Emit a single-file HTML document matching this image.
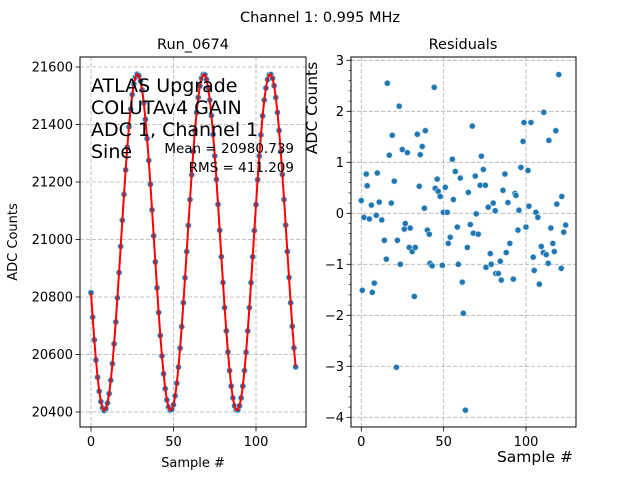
<!DOCTYPE html>
<html><head><meta charset="utf-8"><style>
body{margin:0;background:#fff}
svg text{font-family:"DejaVu Sans","Liberation Sans",sans-serif;fill:#000}
</style></head><body>
<svg id="fig" width="640" height="480" viewBox="0 0 640 480" xmlns="http://www.w3.org/2000/svg">
<rect width="640" height="480" fill="#fff"/>
<text x="320" y="22" font-size="14.5" text-anchor="middle">Channel 1: 0.995 MHz</text>
<text x="193" y="49" font-size="14.5" text-anchor="middle">Run_0674</text>
<text x="463" y="49" font-size="14.5" text-anchor="middle">Residuals</text>
<g id="left"></g>
<g id="right"></g>
<text x="193" y="467" font-size="13" text-anchor="middle">Sample #</text>
<text transform="translate(17,242) rotate(-90)" font-size="13" text-anchor="middle">ADC Counts</text>
<text x="535" y="462" font-size="15.5" text-anchor="middle">Sample #</text>
<text transform="translate(317,108) rotate(-90)" font-size="15.5" text-anchor="middle">ADC Counts</text>
<g font-size="19">
<text x="91" y="92">ATLAS Upgrade</text>
<text x="91" y="114">COLUTAv4 GAIN</text>
<text x="91" y="136">ADC 1, Channel 1</text>
<text x="91" y="158">Sine</text>
</g>
<text x="294" y="153" font-size="13.5" text-anchor="end">Mean = 20980.739</text>
<text x="294" y="172" font-size="13.5" text-anchor="end">RMS = 411.209</text>
</svg>
<script>
const samples=[20815,20730,20651,20581,20521,20472,20436,20414,20405,20411,20431,20464,20510,20568,20637,20713,20797,20885,20976,21067,21157,21242,21321,21392,21453,21504,21541,21565,21575,21570,21552,21520,21475,21418,21351,21275,21192,21103,21013,20922,20832,20746,20666,20595,20533,20481,20442,20417,20406,20409,20425,20456,20500,20556,20622,20697,20780,20867,20958,21049,21139,21225,21306,21379,21442,21494,21534,21561,21574,21573,21557,21528,21485,21431,21365,21291,21209,21122,21032,20940,20850,20763,20682,20609,20544,20490,20449,20421,20407,20407,20421,20449,20490,20544,20608,20682,20763,20850,20940,21031,21121,21208,21290,21364,21430,21485,21527,21557,21573,21574,21561,21535,21494,21442,21379,21306,21226,21139,21050,20958,20868,20780,20698,20623,20557];
const leftYTicks=[20400,20600,20800,21000,21200,21400,21600];
const xTicks=[0,50,100];
const resX=[0,1.6,3,3.6,4.9,6.1,9.1,9.7,10.9,12.4,14,15.8,17,18.2,18.8,20,21.9,23,24.9,26.7,26.1,28,29.7,34,35.2,35.8,37,38.3,38.9,40.1,41.3,44.3,44.9,46.1,46.7,47.9,49.8,51,52.2,52.8,54,55.3,55.9,57.1,58.3,60.1,65,66.2,67.4,68,69.2,69.8,71,72.2,72.9,74.1,75.3,77.1,80.1,81.3,86,87.2,89,90.2,93.3,93.9,95.1,95.7,96.9,98.2,98.8,100,101.2,101.8,103,106,107.2,110.8,113.9,115.1,116.3,118.1,118.7,119.9,121.7,122.9,124.1,15.2,23.7,29.1,30.9,32.8,41.7,43,49.2,58.9,61.3,61.9,63.2,64.4,75.7,78.3,78.9,81.6,83.2,84.4,85,88,92.3,104.4,105,108.1,109.3,110.5,112.3,113.5,117.2,121.4,0.6,6.7,7.9,21.3,32.2];
const resY=[0.25,-0.08,0.77,0.54,-0.11,0.16,-0.04,0.79,0.22,-0.13,-0.53,2.55,1.14,0.2,1.53,0.63,-0.53,2.1,1.25,-0.2,-0.31,1.19,-0.29,1.55,0.53,1.15,1.31,0.1,1.62,-0.33,-0.41,2.47,0.49,0.67,0.43,0.33,0.02,0.51,0.02,-0.59,-0.47,1.06,0.27,0.82,-0.27,0.69,0.41,-0.22,1.71,-0.39,0.73,-0.01,-0.41,0.55,1.12,0.86,0.55,0.12,0.2,0.05,0.45,0.77,0.21,-0.59,0.39,0.35,-0.33,0.06,0.9,1.41,1.78,-0.27,0.84,0.14,1.78,0.02,-0.08,1.98,1.43,-0.29,-0.59,1.62,0.18,2.72,0.33,-0.37,-0.23,-0.9,-1.0,-0.67,-0.75,-0.67,-0.98,-1.03,-1.02,-1.0,-1.35,-1.96,-3.86,-0.67,-1.06,-0.79,-1.0,-1.18,-1.18,-0.94,-1.31,-0.77,-1.29,-0.86,-1.12,-1.39,-0.65,-0.77,-0.81,-0.98,-0.75,-1.08,-1.51,-1.55,-1.37,-3.02,-1.63];
const rightYTicks=[-4,-3,-2,-1,0,1,2,3];

const NS='http://www.w3.org/2000/svg';
function mk(tag,attrs,parent){const e=document.createElementNS(NS,tag);for(const k in attrs)e.setAttribute(k,attrs[k]);parent.appendChild(e);return e;}
const L={x0:80,x1:306,y0:57,y1:427};
const R={x0:351,x1:576,y0:57,y1:427};
const lx=n=>91+n*1.65, ly=v=>412-(v-20400)*0.2875;
const rx=n=>361.3+n*1.647, ry=r=>213.3-r*51;
const left=document.getElementById('left'), right=document.getElementById('right');

function axes(g,A,xf,yf,yt,fmt,minor){
  xTicks.forEach(t=>{const x=xf(t);
    const gl=mk('line',{x1:x,x2:x,y1:A.y0,y2:A.y1,stroke:'#b0b0b0','stroke-dasharray':'4,2','stroke-width':0.8},g);
    
    
    mk('line',{x1:x,x2:x,y1:A.y1,y2:A.y1+4.5,stroke:'#000','stroke-width':0.8},g);
    const tx=mk('text',{x:x,y:A.y1+19,'font-size':13,'text-anchor':'middle'},g);tx.textContent=t;
    
    
  });
  yt.forEach(t=>{const y=yf(t);
    const gl=mk('line',{x1:A.x0,x2:A.x1,y1:y,y2:y,stroke:'#b0b0b0','stroke-dasharray':'4,2','stroke-width':0.8},g);
    
    
    mk('line',{x1:A.x0-4.5,x2:A.x0,y1:y,y2:y,stroke:'#000','stroke-width':0.8},g);
    const tx=mk('text',{x:A.x0-7,y:y+4.5,'font-size':13,'text-anchor':'end'},g);tx.textContent=fmt(t);
    
    
  });
  if(minor){for(let v=-4.2;v<=3.1;v+=0.2){const y=yf(v);if(y<A.y0||y>A.y1)continue;mk('line',{x1:A.x0-2.5,x2:A.x0,y1:y,y2:y,stroke:'#000','stroke-width':0.6},g);}}
}
axes(left,L,lx,ly,leftYTicks,t=>t,false);
axes(right,R,rx,ry,rightYTicks,t=>t<0?'\u2212'+(-t):t,true);

samples.forEach((v,i)=>{const c=mk('circle',{cx:lx(i),cy:ly(v),r:3,fill:'#1f77b4',stroke:'#cfe0ee','stroke-width':0.6},left);
  
  });
const line=mk('polyline',{points:samples.map((v,i)=>lx(i)+','+ly(v)).join(' '),fill:'none',stroke:'#ff0000','stroke-width':2},left);


resX.forEach((n,i)=>{const c=mk('circle',{cx:rx(n),cy:ry(resY[i]),r:3,fill:'#1f77b4',stroke:'#cfe0ee','stroke-width':0.6},right);
  
  });
[[left,L],[right,R]].forEach(([g,A])=>{const f=mk('rect',{x:A.x0,y:A.y0,width:A.x1-A.x0,height:A.y1-A.y0,fill:'none',stroke:'#000','stroke-width':1},g);
  
  });
</script>
</body></html>
